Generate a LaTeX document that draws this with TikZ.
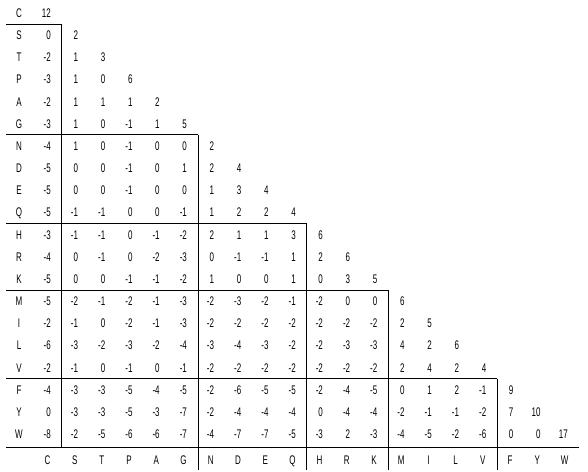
\documentclass[tikz,border=0pt]{standalone}
\usepackage{fontspec}
\newfontfamily\tabfont[FakeStretch=0.64]{Liberation Sans}
\tikzset{
  cell/.style={inner sep=0pt, text height=9pt, text depth=0pt,
    font=\tabfont\fontsize{12.5}{12.5}\selectfont},
  num/.style={cell, anchor=east},
  lab/.style={cell, anchor=center},
  rule/.style={line width=0.9pt}
}
\begin{document}
\begin{tikzpicture}[x=27.21pt, y=-22.16pt]
    \useasboundingbox (-0.875,-0.5866) rectangle (20.734,20.668);

    % row and column letters
    \foreach \a [count=\j from 0] in {C,S,T,P,A,G,N,D,E,Q,H,R,K,M,I,L,V,F,Y,W} {
        \node[lab] (row-\a) at (-0.176,\j) {\a};
        \node[lab] (col-\a) at (\j+1-0.129,20.17) {\a};
    }

    % scores, lower triangle
    \foreach \r [count=\j from 0] in {
        {12},
        {0,2},
        {-2,1,3},
        {-3,1,0,6},
        {-2,1,1,1,2},
        {-3,1,0,-1,1,5},
        {-4,1,0,-1,0,0,2},
        {-5,0,0,-1,0,1,2,4},
        {-5,0,0,-1,0,0,1,3,4},
        {-5,-1,-1,0,0,-1,1,2,2,4},
        {-3,-1,-1,0,-1,-2,2,1,1,3,6},
        {-4,0,-1,0,-2,-3,0,-1,-1,1,2,6},
        {-5,0,0,-1,-1,-2,1,0,0,1,0,3,5},
        {-5,-2,-1,-2,-1,-3,-2,-3,-2,-1,-2,0,0,6},
        {-2,-1,0,-2,-1,-3,-2,-2,-2,-2,-2,-2,-2,2,5},
        {-6,-3,-2,-3,-2,-4,-3,-4,-3,-2,-2,-3,-3,4,2,6},
        {-2,-1,0,-1,0,-1,-2,-2,-2,-2,-2,-2,-2,2,4,2,4},
        {-4,-3,-3,-5,-4,-5,-2,-6,-5,-5,-2,-4,-5,0,1,2,-1,9},
        {0,-3,-3,-5,-3,-7,-2,-4,-4,-4,0,-4,-4,-2,-1,-1,-2,7,10},
        {-8,-2,-5,-6,-6,-7,-4,-7,-7,-5,-3,2,-3,-4,-5,-2,-6,0,0,17}} {
        \foreach \v [count=\i] in \r
            \node[num] (m-\j-\i) at (\i,\j) {\v};
    }

    % group rules
    \foreach \y/\x in {0.5/1.4, 5.5/6.4, 9.5/10.4, 12.5/13.4, 16.5/17.4, 19.6/20.4}
        \draw[rule] (-0.654,\y) -- (\x,\y);
    \draw[rule] (1.4,0.5) -- (1.4,19.6);
    \foreach \x/\y in {6.4/5.5, 10.4/9.5, 13.4/12.5, 17.4/16.5}
        \draw[rule] (\x,\y) -- (\x,20.62);

\end{tikzpicture}
\end{document}
